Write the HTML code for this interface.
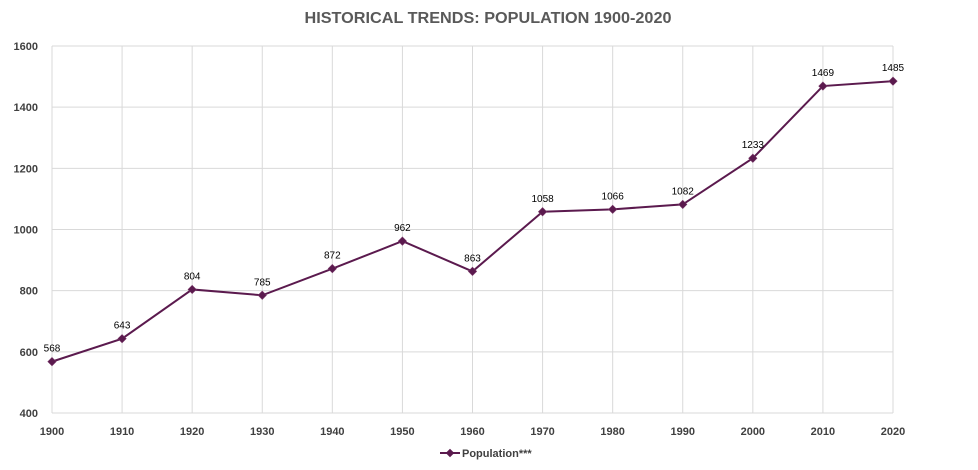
<!DOCTYPE html>
<html><head><meta charset="utf-8"><style>
html,body{margin:0;padding:0;background:#fff;}
svg{display:block;font-family:"Liberation Sans",sans-serif;}
</style></head><body>
<svg id="chart" width="978" height="470">
<text x="488" y="23" text-anchor="middle" font-size="16" font-weight="bold" fill="#595959" textLength="367" lengthAdjust="spacingAndGlyphs">HISTORICAL TRENDS: POPULATION 1900-2020</text>
<g id="grid"></g><g id="axes"></g><g id="series"></g>
<g>
<line x1="440" y1="453" x2="460" y2="453" stroke="#5b1a4e" stroke-width="2"/>
<rect x="447" y="450" width="6" height="6" fill="#5b1a4e" transform="rotate(45 450 453)"/>
<text x="462" y="457" font-size="11" font-weight="bold" fill="#404040">Population***</text>
</g>
</svg>
<script>
const years=[1900,1910,1920,1930,1940,1950,1960,1970,1980,1990,2000,2010,2020];
const population=[568,643,804,785,872,962,863,1058,1066,1082,1233,1469,1485];
const yTicks=[400,600,800,1000,1200,1400,1600];
const NS="http://www.w3.org/2000/svg";
const x0=52,x1=893,yTop=46,yBot=413;
const xs=i=>x0+(x1-x0)*i/(years.length-1);
const ys=v=>yBot-(v-400)/1200*(yBot-yTop);
function mk(t,a,p){const e=document.createElementNS(NS,t);for(const k in a)e.setAttribute(k,a[k]);p.appendChild(e);return e;}
const grid=document.getElementById('grid'),axes=document.getElementById('axes'),ser=document.getElementById('series');
yTicks.forEach(v=>{
 const l=mk('line',{x1:x0,x2:x1,y1:ys(v),y2:ys(v),stroke:'#d9d9d9','stroke-width':1},grid);
 
 
 const t=mk('text',{x:38,y:ys(v)+4,'text-anchor':'end','font-size':11,'font-weight':'bold',fill:'#404040'},axes);
 t.textContent=v;
 
 
});
years.forEach((yr,i)=>{
 const l=mk('line',{x1:xs(i),x2:xs(i),y1:yTop,y2:yBot,stroke:'#d9d9d9','stroke-width':1},grid);
 
 
 const t=mk('text',{x:xs(i),y:435,'text-anchor':'middle','font-size':11,'font-weight':'bold',fill:'#404040'},axes);
 t.textContent=yr;
 
 
});
const path=mk('polyline',{points:population.map((v,i)=>xs(i)+','+ys(v)).join(' '),fill:'none',stroke:'#5b1a4e','stroke-width':2},ser);


population.forEach((v,i)=>{
 const m=mk('rect',{x:xs(i)-3,y:ys(v)-3,width:6,height:6,fill:'#5b1a4e',stroke:'#7a3a6a','stroke-width':0.5,transform:`rotate(45 ${xs(i)} ${ys(v)})`},ser);
 
 
 const t=mk('text',{x:xs(i),y:ys(v)-10,'text-anchor':'middle','font-size':10,fill:'#000'},ser);
 t.textContent=v;
 
 
});
</script>
</body></html>
